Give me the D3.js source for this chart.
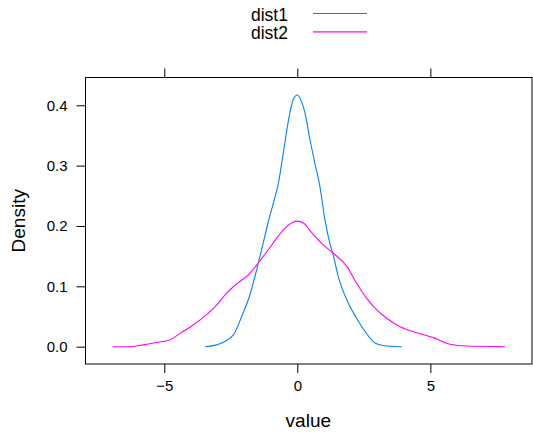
<!DOCTYPE html>
<html>
<head>
<meta charset="utf-8">
<script src="https://cdn.jsdelivr.net/npm/d3@7"></script>
<style>
  body { margin: 0; background: #fff; }
  svg { display: block; }
  text { font-family: "Liberation Sans", Arial, sans-serif; fill: #000; }
</style>
</head>
<body>
<svg id="chart" width="533" height="432"></svg>
<script>
// DATA
var seriesNames = ['dist1', 'dist2'];
var seriesColors = ['#0080ff', '#ff00ff'];

// density curve of dist1
var dist1X = [-3.47, -3.03, -2.41, -2.09, -1.78, -1.53, -1.27, -1.09, -0.9, -0.71, -0.53, -0.34, -0.15, 0, 0.16, 0.29, 0.48, 0.66, 0.85, 1.04, 1.23, 1.35, 1.54, 1.92, 2.23, 2.55, 2.92, 3.23, 3.92];
var dist1Y = [0, 0.003, 0.019, 0.05, 0.086, 0.127, 0.174, 0.207, 0.238, 0.271, 0.32, 0.373, 0.41, 0.417, 0.406, 0.387, 0.342, 0.304, 0.265, 0.21, 0.17, 0.152, 0.116, 0.072, 0.047, 0.025, 0.006, 0.002, 0];

// density curve of dist2
var dist2X = [-6.94, -6.29, -5.79, -5.29, -4.79, -4.41, -3.91, -3.41, -3.03, -2.65, -2.28, -1.84, -1.53, -1.15, -0.77, -0.4, 0, 0.23, 0.54, 0.92, 1.29, 1.86, 2.23, 2.61, 2.92, 3.36, 3.86, 4.49, 5.11, 5.74, 6.37, 7.81];
var dist2Y = [0, 0, 0.003, 0.007, 0.011, 0.022, 0.036, 0.053, 0.069, 0.089, 0.104, 0.119, 0.135, 0.157, 0.18, 0.199, 0.208, 0.205, 0.189, 0.171, 0.157, 0.133, 0.105, 0.08, 0.064, 0.047, 0.033, 0.023, 0.015, 0.004, 0.001, 0];

var xTicks = [-5, 0, 5];
var yTicks = [0, 0.1, 0.2, 0.3, 0.4];

// CHART
var panel = { left: 85.5, right: 532, top: 77.5, bottom: 364 };

var x = d3.scaleLinear().domain([-7.96, 8.82]).range([panel.left, panel.right]);
var y = d3.scaleLinear().domain([-0.0287, 0.446]).range([panel.bottom, panel.top]);

var svg = d3.select('#chart');

// curves
var line = d3.line()
    .x(function(d) { return x(d[0]); })
    .y(function(d) { return y(d[1]); })
    .curve(d3.curveMonotoneX);

var curves = [d3.zip(dist1X, dist1Y), d3.zip(dist2X, dist2Y)];
curves.forEach(function(pts, i) {
    svg.append('path')
        .datum(pts)
        .attr('fill', 'none')
        .attr('stroke', seriesColors[i])
        .attr('stroke-width', 1.1)
        .attr('d', line);
});

// axes: lattice style, ticks outside the box on all sides, labels bottom and left
function styleAxis(g) {
    g.select('.domain').remove();
    g.selectAll('.tick line').attr('stroke', '#000');
    g.selectAll('.tick text')
        .attr('font-size', 15)
        .attr('font-family', '"Liberation Sans", Arial, sans-serif');
}

svg.append('g')
    .attr('transform', 'translate(0,' + panel.bottom + ')')
    .call(d3.axisBottom(x).tickValues(xTicks).tickSize(9).tickPadding(7)
        .tickFormat(function(d) { return d < 0 ? '\u2212' + Math.abs(d) : d; }))
    .call(styleAxis);

svg.append('g')
    .attr('transform', 'translate(0,' + panel.top + ')')
    .call(d3.axisTop(x).tickValues(xTicks).tickSize(9).tickFormat(''))
    .call(styleAxis);

svg.append('g')
    .attr('transform', 'translate(' + panel.left + ',0)')
    .call(d3.axisLeft(y).tickValues(yTicks).tickSize(9).tickPadding(9)
        .tickFormat(d3.format('.1f')))
    .call(styleAxis);

// panel box
svg.append('rect')
    .attr('x', panel.left)
    .attr('y', panel.top)
    .attr('width', panel.right - panel.left)
    .attr('height', panel.bottom - panel.top)
    .attr('fill', 'none')
    .attr('stroke', '#000');

// axis titles
svg.append('text')
    .attr('x', x(0) + 11)
    .attr('y', 427)
    .attr('text-anchor', 'middle')
    .attr('font-size', 19)
    .text('value');

svg.append('text')
    .attr('transform', 'translate(25,' + ((panel.top + panel.bottom) / 2) + ') rotate(-90)')
    .attr('text-anchor', 'middle')
    .attr('font-size', 19)
    .text('Density');

// legend
var legend = svg.append('g');
seriesNames.forEach(function(name, i) {
    var ly = 13.5 + i * 18.4;
    legend.append('text')
        .attr('x', 251)
        .attr('y', ly + 7)
        .attr('font-size', 17.5)
        .text(name);
    legend.append('line')
        .attr('x1', 313).attr('x2', 367)
        .attr('y1', ly).attr('y2', ly)
        .attr('stroke', seriesColors[i])
        .attr('stroke-width', 1.1);
});
</script>
</body>
</html>
